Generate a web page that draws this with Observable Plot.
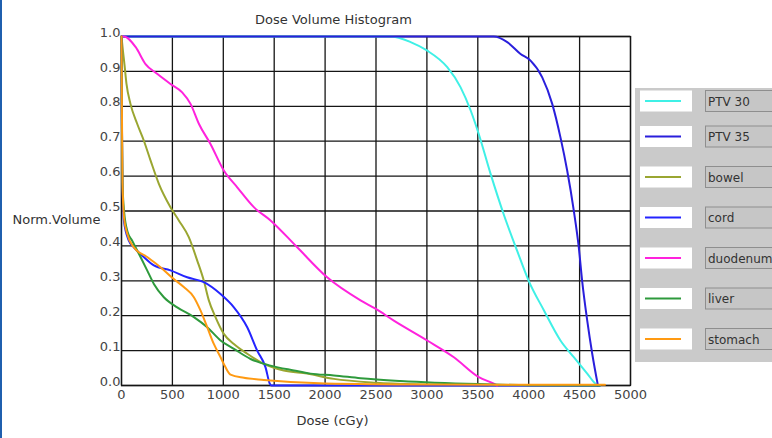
<!DOCTYPE html>
<html><head><meta charset="utf-8">
<script src="https://cdn.jsdelivr.net/npm/d3@7"></script>
<script src="https://cdn.jsdelivr.net/npm/@observablehq/plot@0.6"></script>
<style>
body{margin:0;background:#fff;}
#wrap{position:relative;width:772px;height:438px;overflow:hidden;}
#edge{position:absolute;left:0;top:0;width:2px;height:438px;background:#1f5fae;}
</style></head><body><div id="wrap"><div id="edge"></div></div>
<script>
const title = "Dose Volume Histogram";
const xLabel = "Dose (cGy)";
const yLabel = "Norm.Volume";
const xTicks = [0,500,1000,1500,2000,2500,3000,3500,4000,4500,5000];
const yTicks = [0,0.1,0.2,0.3,0.4,0.5,0.6,0.7,0.8,0.9,1.0];
const names = ["PTV 30","PTV 35","bowel","cord","duodenum","liver","stomach"];
const colors = ["#3ff0e6","#2a1fdc","#9aa631","#2424ff","#ff22dd","#2e9a3c","#ff9a12"];

const ptv30 = [[0,1],[2640,1],[2840,0.984],[3000,0.96],[3200,0.912],[3330,0.855],[3430,0.788],[3510,0.72],[3625,0.607],[3755,0.49],[3885,0.387],[4000,0.30],[4150,0.215],[4312,0.129],[4443,0.081],[4575,0.034],[4656,0.005],[4680,0]];
const ptv35 = [[0,1],[3657,1],[3789,0.984],[3920,0.95],[4018,0.931],[4133,0.883],[4231,0.807],[4312,0.711],[4378,0.616],[4443,0.501],[4492,0.396],[4525,0.30],[4575,0.186],[4624,0.091],[4680,0]];
const bowel = [[0,1],[10,0.97],[29,0.92],[49,0.864],[88,0.807],[154,0.75],[219,0.702],[285,0.645],[367,0.578],[481,0.511],[563,0.473],[661,0.425],[744,0.358],[809,0.30],[858,0.244],[923,0.196],[1005,0.148],[1104,0.119],[1235,0.091],[1398,0.062],[1594,0.043],[1824,0.034],[2086,0.019],[2500,0.008],[3000,0.003],[3600,0]];
const cord = [[0,1],[3,0.8],[8,0.62],[15,0.52],[23,0.473],[72,0.415],[121,0.396],[219,0.368],[318,0.344],[481,0.33],[645,0.31],[809,0.296],[973,0.262],[1104,0.224],[1235,0.167],[1333,0.10],[1415,0.052],[1457,0.005],[1470,0],[4700,0]];
const duodenum = [[0,1],[23,1],[138,0.97],[236,0.921],[350,0.893],[481,0.864],[596,0.84],[678,0.807],[760,0.75],[874,0.692],[1005,0.616],[1137,0.568],[1300,0.511],[1464,0.473],[1726,0.396],[2020,0.31],[2348,0.244],[2495,0.22],[2675,0.186],[3003,0.129],[3265,0.081],[3510,0.024],[3657,0.005],[3690,0]];
const liver = [[0,1],[4,0.75],[10,0.58],[25,0.5],[60,0.44],[105,0.415],[187,0.368],[252,0.33],[318,0.291],[416,0.253],[547,0.224],[711,0.196],[842,0.167],[973,0.129],[1104,0.105],[1268,0.076],[1464,0.057],[1693,0.043],[1857,0.034],[2086,0.029],[2348,0.021],[2741,0.013],[3500,0.004],[4000,0.001],[4700,0]];
const stomach = [[0,1],[4,0.8],[10,0.58],[25,0.48],[56,0.435],[121,0.396],[252,0.368],[383,0.339],[514,0.305],[612,0.282],[711,0.253],[776,0.215],[842,0.167],[907,0.119],[973,0.081],[1022,0.052],[1071,0.031],[1202,0.022],[1398,0.016],[2000,0.006],[3000,0.003],[4750,0.002]];

const series = [ptv30, ptv35, bowel, cord, duodenum, liver, stomach];
const data = names.flatMap((n,i) => series[i].map(([d,v]) => ({name:n, dose:d, vol:v})));

const W = 772, H = 438, mL = 121, mR = 142, mT = 36, mB = 53;
const gridStyle = {stroke:"#151515", strokeOpacity:1, strokeWidth:1.3};

const plot = Plot.plot({
  width: W, height: H, marginLeft: mL, marginRight: mR, marginTop: mT, marginBottom: mB,
  style: {fontFamily: "DejaVu Sans", fontSize: "13px", color: "#444", background: "white"},
  x: {domain: [0,5000]},
  y: {domain: [0,1]},
  color: {domain: names, range: colors},
  marks: [
    Plot.gridX(xTicks, gridStyle),
    Plot.gridY(yTicks, gridStyle),
    Plot.frame({stroke:"#151515", strokeWidth:1.3}),
    Plot.axisX(xTicks, {tickSize:0, tickPadding:4, label:null, tickFormat: d => String(d)}),
    Plot.axisY(yTicks, {tickSize:0, tickPadding:1, dy:-4, label:null, tickFormat: d3.format(".1f")}),
    Plot.line(data, {x:"dose", y:"vol", z:"name", stroke:"name", strokeWidth:2, curve:"monotone-x"}),
    Plot.text([title], {frameAnchor:"top-left", dx:212, dy:-22, textAnchor:"middle", fill:"#333", fontSize:13}),
    Plot.text([xLabel], {frameAnchor:"bottom-left", dx:211, dy:39, textAnchor:"middle", fill:"#333", fontSize:13}),
    Plot.text([yLabel], {frameAnchor:"left", dx:-109, dy:9, textAnchor:"start", fill:"#333", fontSize:13})
  ]
});
document.getElementById("wrap").appendChild(plot);

// Legend panel drawn into the same SVG
const svg = d3.select(plot);
const lg = svg.append("g").attr("text-anchor","start");
lg.append("rect").attr("x",635).attr("y",88).attr("width",140).attr("height",274).attr("fill","#cacaca");
names.forEach((n,i) => {
  const cy = i === 0 ? 101 : 136.5 + (i-1)*40.5;
  lg.append("rect").attr("x",640).attr("y",cy-10.5).attr("width",52).attr("height",21).attr("fill","#fff");
  lg.append("line").attr("x1",645).attr("x2",681).attr("y1",cy).attr("y2",cy).attr("stroke",colors[i]).attr("stroke-width",2);
  lg.append("rect").attr("x",705.5).attr("y",cy-10.5).attr("width",80).attr("height",21).attr("fill","#c6c6c6").attr("stroke","#8e8e8e").attr("stroke-width",1);
  lg.append("text").attr("x",708).attr("y",cy+4.5).attr("text-anchor","start").attr("fill","#333").attr("font-size",12).attr("font-family","DejaVu Sans").text(n);
});
</script></body></html>
